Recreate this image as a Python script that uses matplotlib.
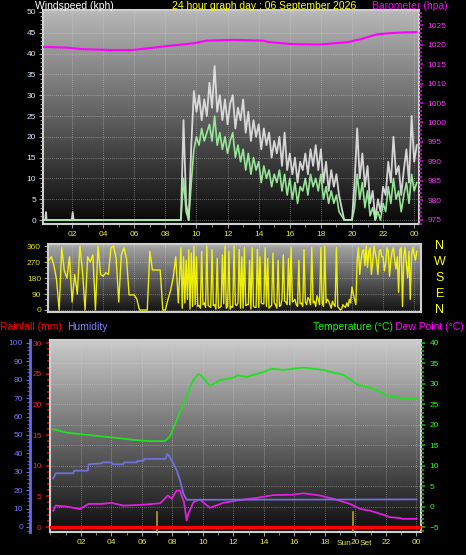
import numpy as np
import matplotlib
matplotlib.use('Agg')
import matplotlib.pyplot as plt
from matplotlib.ticker import MultipleLocator, FixedLocator

plt.rcParams['font.family'] = ['Liberation Sans', 'DejaVu Sans']

# ---------------- data ----------------
hour_ticks = [2, 4, 6, 8, 10, 12, 14, 16, 18, 20, 22, 24]
hour_labels = ['02', '04', '06', '08', '10', '12', '14', '16', '18', '20', '22', '00']

# calm period (explicit samples)
calm_hours = [0.13, 0.28, 0.32, 0.36, 1.98, 2.04, 2.10, 8.9]
calm_gust = [0, 0, 1.9, 0, 0, 1.9, 0, 0]
calm_avg = [0, 0, 0, 0, 0, 0, 0, 0]

# windy period: 10-minute samples starting 09:00
wind_start_hour = 9.0
gust_kph = [0, 24, 4, 0, 18, 31,
            26, 30, 24, 29, 25, 33,
            27, 37, 26, 30, 24, 29,
            23, 28, 30, 22, 27, 24,
            29, 21, 26, 19, 24, 20,
            23, 17, 22, 18, 21, 15,
            19, 16, 20, 13, 21, 12,
            16, 11, 15, 9, 14, 12,
            16, 11, 17, 13, 18, 12,
            17, 9, 14, 7, 12, 8,
            11, 6, 3, 0, 0, 0,
            0, 9, 22, 10, 16, 8,
            13, 4, 7, 0, 5, 2,
            8, 6, 14, 9, 20, 11,
            13, 6, 12, 17, 9, 25,
            14, 18]
avg_kph = [0, 10, 2, 0, 9, 17,
           20, 18, 22, 19, 21, 23,
           19, 25, 18, 21, 17, 20,
           16, 19, 21, 15, 18, 14,
           17, 12, 16, 11, 15, 12,
           14, 9, 13, 10, 12, 8,
           11, 9, 12, 7, 11, 6,
           10, 5, 9, 4, 8, 7,
           10, 6, 11, 8, 10, 7,
           11, 5, 8, 4, 7, 4,
           6, 2, 1, 0, 0, 0,
           0, 3, 11, 5, 9, 3,
           7, 1, 3, 0, 2, 0,
           4, 2, 8, 4, 10, 5,
           7, 2, 6, 9, 4, 11,
           7, 9]

baro_hours = [0.15, 1.65, 2.7, 4.4, 5.9, 6.8, 8.1, 9.8, 10.65, 12.4, 14.3, 14.7,
              16.2, 17.9, 19.7, 20.5, 21.6, 22.4, 23.3, 24.15]
baro_hpa = [1019.4, 1019.2, 1018.8, 1018.6, 1018.6, 1019.0, 1019.6, 1020.3, 1021.0,
            1021.2, 1021.0, 1020.6, 1020.1, 1020.0, 1020.6, 1021.3, 1022.6, 1022.9,
            1023.1, 1023.2]

# wind direction: 10-minute samples from 00:30, then 5-minute samples from 09:00
dir_early_start = 0.5
dir_early_deg = [280, 300, 250,
                 170, 0, 350, 220, 180, 300,
                 45, 200, 90, 360, 220, 0,
                 300, 270, 310, 0, 360, 200,
                 190, 210, 200, 350, 360, 290,
                 45, 310, 350, 290, 85, 85,
                 85, 60, 0, 0, 0, 0,
                 330, 225, 225, 225, 225, 0,
                 0, 60, 110, 180, 300, 40]
dir_late_start = 9.0
dir_late_deg = [350, 10, 300, 40, 280, 60, 340, 5, 320, 20, 360, 30,
                300, 20, 25, 10, 330, 30, 40, 15, 360, 25, 20, 15,
                340, 25, 30, 5, 290, 10, 15, 20, 310, 35, 360, 10,
                20, 330, 5, 20, 15, 360, 30, 25, 40, 340, 10, 300,
                10, 350, 25, 30, 30, 280, 5, 350, 20, 15, 15, 340,
                15, 300, 40, 35, 35, 350, 20, 290, 10, 20, 25, 320,
                40, 30, 10, 280, 20, 25, 60, 310, 50, 45, 30, 290,
                30, 350, 45, 50, 60, 30, 20, 280, 35, 40, 20, 340,
                45, 30, 70, 60, 30, 350, 40, 50, 20, 80, 60, 30,
                350, 40, 20, 360, 40, 60, 50, 30, 10, 50, 30, 20,
                350, 20, 10, 0, 5, 30, 20, 15, 40, 20, 60, 40,
                130, 90, 60, 30, 280, 350, 200, 280, 330, 340, 250, 360,
                240, 330, 350, 200, 270, 360, 320, 280, 200, 330, 340, 300,
                300, 220, 260, 350, 330, 190, 280, 330, 350, 280, 230, 300,
                100, 340, 350, 20, 300, 350, 260, 180, 330, 60, 310, 350,
                310, 280, 330]
compass_labels = ['N', 'W', 'S', 'E', 'N']
compass_deg = [360, 270, 180, 90, 0]

temp_hours = [0.18, 1.06, 1.93, 3.25, 4.56, 5.43, 6.5, 7.5, 7.84, 8.27, 8.71, 9.15,
              9.36, 9.69, 9.9, 10.46, 11.11, 11.99, 12.3, 12.86, 13.5, 14.07, 14.5,
              15.3, 16.14, 16.58, 17.2, 17.89, 18.54, 19.2, 19.75, 20.18, 20.73,
              21.39, 22.05, 22.7, 23.13, 24.0]
temp_c = [18.9, 18.1, 17.7, 17.2, 16.7, 16.3, 16.0, 16.0, 17.2, 21.1, 25.0, 29.0,
          30.9, 32.4, 32.0, 29.5, 30.9, 31.5, 32.1, 31.7, 32.4, 33.0, 33.7, 33.4,
          33.8, 34.0, 33.7, 33.4, 32.8, 32.2, 30.9, 29.7, 29.3, 28.5, 27.1, 26.8,
          26.3, 26.3]

hum_hours = [0.18, 0.35, 1.5, 1.55, 2.45, 2.5, 3.36, 3.4, 4.0, 4.05, 4.78, 4.82,
             5.65, 5.7, 6.1, 6.15, 7.55, 7.65, 7.8, 8.05, 8.27, 8.49, 8.71, 8.93, 24.0]
hum_pct = [26.4, 29.2, 29.2, 30.6, 30.6, 34.1, 34.6, 35.1, 35.1, 34.1, 34.1, 35.1,
           35.1, 35.9, 35.9, 37.0, 37.0, 39.7, 38.5, 34.6, 31.0, 25.5, 18.3, 14.8, 15.0]

dew_hours = [0.18, 0.35, 1.06, 1.93, 2.5, 3.36, 4.0, 4.78, 5.87, 7.2, 7.7, 7.95,
             8.27, 8.49, 8.6, 8.76, 8.93, 9.04, 9.38, 9.8, 10.46, 11.33, 12.4, 13.5,
             14.6, 15.9, 16.6, 17.67, 18.55, 19.64, 20.3, 20.95, 21.83, 22.26, 22.9,
             23.1, 24.0]
dew_c = [-1.0, 0.24, 0.0, -0.6, 0.65, 0.65, 0.9, 0.24, 0.4, 0.8, 2.7, 1.9, 3.9, 3.9,
         2.7, 1.1, -3.4, -1.8, 1.1, 1.7, -0.3, 0.9, 1.6, 2.1, 2.8, 2.9, 3.25, 2.7,
         1.9, 0.65, -0.57, -1.0, -2.0, -2.6, -2.8, -3.0, -3.0]

rain_hours = [0.0, 24.3]
rain_mm = [0.0, 0.0]

sun_event_hours = [7.0, 19.85]

# ---------------- figure ----------------
W, H = 466, 555
fig = plt.figure(figsize=(W / 100, H / 100), dpi=100, facecolor='black')


def px_axes(left, top, right, bottom):
    return fig.add_axes([left / W, 1 - bottom / H, (right - left) / W, (bottom - top) / H])


def gradient(ax, top_gray, bottom_gray):
    g = np.linspace(top_gray, bottom_gray, 256).reshape(-1, 1)
    ax.imshow(np.dstack([g, g, g]), extent=[0, 1, 0, 1], transform=ax.transAxes,
              aspect='auto', zorder=0, interpolation='bilinear')


FRAME = '#cfcfcf'
GRID = dict(color='#d8d8d8', linestyle=(0, (1, 1.5)), linewidth=0.6, alpha=0.55)
TS = 6

# ---------- top panel: wind speed + barometer ----------
ax1 = px_axes(43, 10, 419, 224)
ax1.set_facecolor('black')
gradient(ax1, 0.72, 0.03)
wind_hours = list(calm_hours[:-1]) + list(wind_start_hour + np.arange(len(gust_kph)) / 6)
gust_all = list(calm_gust[:-1]) + gust_kph
avg_all = list(calm_avg[:-1]) + avg_kph
ax1.plot(wind_hours, gust_all, color='#e6e6e6', lw=1.3, alpha=0.9, zorder=3)
ax1.plot(wind_hours, avg_all, color='#9cf09c', lw=1.2, alpha=0.95, zorder=4)
ax1.set_xlim(0.13, 24.31)
ax1.set_ylim(-0.96, 50.48)
ax1.xaxis.set_major_locator(FixedLocator(hour_ticks))
ax1.set_xticklabels(hour_labels)
ax1.xaxis.set_minor_locator(MultipleLocator(1))
ax1.yaxis.set_major_locator(MultipleLocator(5))
ax1.yaxis.set_minor_locator(MultipleLocator(1))
ax1.tick_params(axis='x', which='both', colors='#a0a0a0', labelcolor='#e8e840',
                labelsize=TS, length=3, pad=2)
ax1.tick_params(axis='x', which='minor', length=2)
ax1.tick_params(axis='y', which='both', colors='#a8a8a8', labelcolor='#d8e8ff',
                labelsize=TS, length=3, pad=2)
ax1.tick_params(axis='y', which='minor', length=2)
ax1.grid(True, which='major', **GRID)
for s in ax1.spines.values():
    s.set_color(FRAME)
    s.set_linewidth(1.5)

ax1b = ax1.twinx()
ax1b.plot(baro_hours, baro_hpa, color='#ff00ff', lw=1.5, zorder=5)
ax1b.set_ylim(973.97, 1028.85)
ax1b.yaxis.set_major_locator(MultipleLocator(5))
ax1b.yaxis.set_minor_locator(MultipleLocator(1))
ax1b.tick_params(axis='y', which='both', colors='#e000e0', labelcolor='#ff30ff',
                 labelsize=TS, length=3, pad=3, width=1.2)
ax1b.tick_params(axis='y', which='minor', length=2)
for s in ax1b.spines.values():
    s.set_visible(False)
ax1b.set_xlim(0.13, 24.31)

# ---------- direction panel ----------
ax2 = px_axes(48, 244, 421, 312)
ax2.set_facecolor('black')
gradient(ax2, 0.66, 0.07)
dir_hours = list(dir_early_start + np.arange(len(dir_early_deg)) / 6) + \
    list(dir_late_start + np.arange(len(dir_late_deg)) / 12)
dir_all = dir_early_deg + dir_late_deg
ax2.plot(dir_hours, dir_all, color='#ffff00', lw=1.0, alpha=0.9, zorder=3)
ax2.set_xlim(0.45, 24.44)
ax2.set_ylim(-11.25, 371.25)
ax2.yaxis.set_major_locator(FixedLocator([0, 90, 180, 270, 360]))
ax2.yaxis.set_minor_locator(MultipleLocator(30))
ax2.xaxis.set_major_locator(FixedLocator(hour_ticks))
ax2.tick_params(axis='x', which='both', bottom=False, labelbottom=False)
ax2.tick_params(axis='y', which='both', colors='#b0b0a0', labelcolor='#e0e000',
                labelsize=TS, length=3, pad=2)
ax2.tick_params(axis='y', which='minor', length=2)
ax2.grid(True, which='major', **GRID)
for s in ax2.spines.values():
    s.set_color(FRAME)
    s.set_linewidth(1.5)
for lab, d in zip(compass_labels, compass_deg):
    ax2.text((440 - 48) / 373, d, lab, transform=ax2.get_yaxis_transform(),
             color='#ffff00', fontsize=9, ha='center', va='center')

# ---------- bottom panel ----------
ax3 = px_axes(50, 340, 421, 532)
ax3.set_facecolor('black')
gradient(ax3, 0.80, 0.05)
ax3.set_xlim(-0.03, 24.3)
ax3.set_ylim(-0.815, 30.49)
ax3.yaxis.set_major_locator(MultipleLocator(5))
ax3.yaxis.set_minor_locator(MultipleLocator(1))
ax3.xaxis.set_major_locator(FixedLocator(hour_ticks))
ax3.set_xticklabels(hour_labels)
ax3.xaxis.set_minor_locator(MultipleLocator(1))
ax3.tick_params(axis='y', which='both', colors='#e00000', labelcolor='#ff2020',
                labelsize=TS, length=3, pad=3, width=1.2)
ax3.tick_params(axis='y', which='minor', length=2)
ax3.tick_params(axis='x', which='both', colors='#a0a0a0', labelcolor='#e8e840',
                labelsize=TS, length=3, pad=2)
ax3.tick_params(axis='x', which='minor', length=2)
for s in ax3.spines.values():
    s.set_color(FRAME)
    s.set_linewidth(1.5)

ax3t = ax3.twinx()
ax3t.set_ylim(-6.22, 40.73)
ax3t.yaxis.set_major_locator(MultipleLocator(5))
ax3t.yaxis.set_minor_locator(MultipleLocator(1))
ax3t.tick_params(axis='y', which='both', colors='#10c010', labelcolor='#20ff20',
                 labelsize=TS, length=3, pad=3, width=1.2)
ax3t.tick_params(axis='y', which='minor', length=2)
ax3t.grid(True, which='major', axis='y', **GRID)
for s in ax3t.spines.values():
    s.set_visible(False)
for xg in hour_ticks:
    ax3t.axvline(xg, **GRID, zorder=1)
ax3t.plot(temp_hours, temp_c, color='#20e020', lw=1.3, zorder=4)
ax3t.plot(dew_hours, dew_c, color='#e020e0', lw=1.3, zorder=4)
for sh in sun_event_hours:
    ax3t.axvline(sh, ymin=0, ymax=20 / 192, color='#b8a020', lw=1.2, zorder=3)

ax3h = ax3.twinx()
ax3h.set_ylim(-2.72, 101.63)
ax3h.yaxis.tick_left()
ax3h.yaxis.set_major_locator(MultipleLocator(10))
ax3h.yaxis.set_minor_locator(MultipleLocator(2))
ax3h.tick_params(axis='y', which='both', colors='#6868e8', labelcolor='#7878ff',
                 labelsize=TS, length=3, pad=2)
ax3h.tick_params(axis='y', which='minor', length=2)
for k in ['right', 'top', 'bottom']:
    ax3h.spines[k].set_visible(False)
ax3h.spines['left'].set_position(('outward', 14.4))
ax3h.spines['left'].set_color('#6868e8')
ax3h.spines['left'].set_linewidth(2)
ax3h.plot(hum_hours, hum_pct, color='#7070d8', lw=1.3, zorder=4)
ax3h.plot(rain_hours, rain_mm, color='#ff0000', lw=2.5, zorder=5,
          transform=ax3.transData)
ax3h.set_xlim(-0.03, 24.3)

# "Sun" / "Set" flanking the 20 tick label (sunset marker)
ax3.text(sun_event_hours[1] - 0.13, -0.058, 'Sun', transform=ax3.get_xaxis_transform(),
         color='#e8e840', fontsize=TS, ha='right', va='center')
ax3.text(sun_event_hours[1] + 0.43, -0.058, 'Set', transform=ax3.get_xaxis_transform(),
         color='#e8e840', fontsize=TS, ha='left', va='center')

# ---------- titles ----------
def ftext(x, y, s, c, **kw):
    fig.text(x / W, 1 - y / H, s, color=c, fontsize=7.5, va='center', **kw)

ftext(35, 6, 'Windspeed (kph)', 'white')
ftext(172, 6, '24 hour graph day : 06 September 2026', '#ffff00')
ftext(372, 6, 'Barometer (hpa)', '#ff00ff')
ftext(0, 327, 'Rainfall (mm)', '#ff0000')
ftext(67, 327, 'Humidity', '#8080ff')
ftext(313, 327, 'Temperature (°C)', '#00ff00')
ftext(395, 327, 'Dew Point (°C)', '#ff00ff')

fig.savefig('out.png', dpi=100, facecolor='black')
